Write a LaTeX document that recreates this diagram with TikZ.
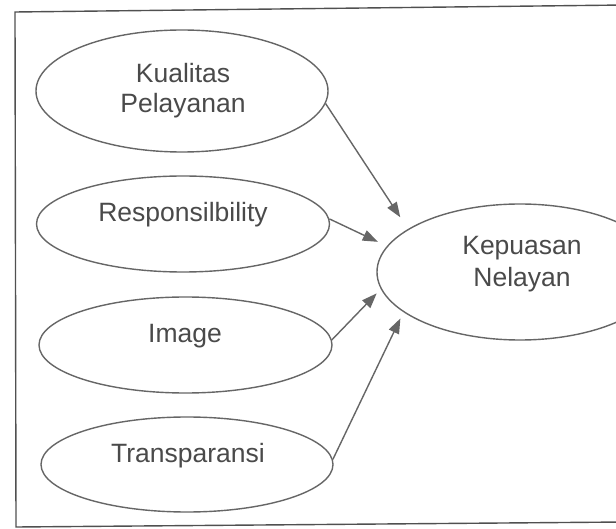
\documentclass[tikz,border=0pt]{standalone}
\usepackage{fontspec}
\setmainfont{Liberation Sans}
\usetikzlibrary{shapes.geometric,arrows.meta}
\definecolor{linegray}{HTML}{666666}
\definecolor{textgray}{HTML}{4A4A4A}
\definecolor{framegray}{HTML}{505050}
\begin{document}
\begin{tikzpicture}[x=1pt,y=-1pt,
  oval/.style={draw=linegray,line width=1.4pt,ellipse,inner sep=0pt,fill=white},
  lbl/.style={text=textgray,font=\fontsize{26.5}{30}\selectfont,align=center,inner sep=0pt},
  arr/.style={draw=linegray,line width=1.4pt,-{Triangle[length=15pt,width=11pt]}}]
\useasboundingbox (0,0) rectangle (616,529);
\fill[white] (0,0) rectangle (616,529);
% frame
\draw[framegray,line width=1.4pt] (625,5) -- (15,12) -- (16,527) -- (625,522);
% ellipses
\node[oval,minimum width=292pt,minimum height=122pt] (kq) at (182,91) {};
\node[oval,minimum width=293pt,minimum height=96pt] (resp) at (183,224) {};
\node[oval,minimum width=293pt,minimum height=96pt] (img) at (185.5,345) {};
\node[oval,minimum width=292pt,minimum height=95pt] (tr) at (187,464.5) {};
\node[oval,minimum width=286pt,minimum height=136pt] (kep) at (520,272) {};
% labels
\node[lbl] (kqt) at (183,91) {Kualitas\\Pelayanan};
\node[lbl,anchor=base] (respt) at (183,222) {Responsilbility};
\node[lbl,anchor=base] (imgt) at (185,343) {Image};
\node[lbl,anchor=base] (trt) at (188,462) {Transparansi};
\node[lbl,font=\fontsize{26.5}{32}\selectfont] (kept) at (522,264) {Kepuasan\\Nelayan};
% arrows
\draw[arr,shorten >=14pt] (kq.-5) -- (kep.159.4);
\draw[arr,shorten >=10pt] (resp.2) -- (kep.169.5);
\draw[arr,shorten >=6pt] (img.2) -- (kep.187.7);
\draw[arr,shorten >=7pt] (tr.2) -- (kep.199.9);
\end{tikzpicture}
\end{document}
